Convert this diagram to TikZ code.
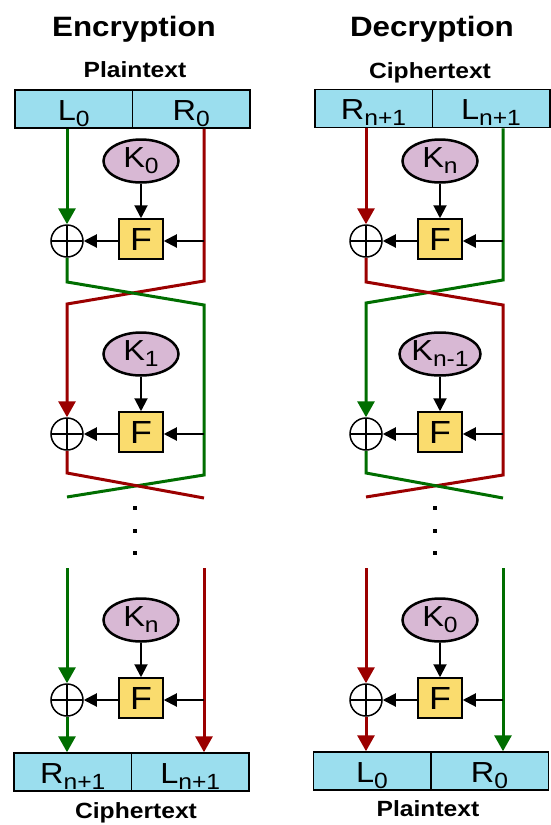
\documentclass[tikz,border=0pt]{standalone}
\usepackage{fontspec}
\setmainfont{Liberation Sans}[FakeStretch=1.12]
\usetikzlibrary{arrows.meta,shapes.geometric}
\definecolor{wgreen}{RGB}{0,110,0}
\definecolor{wred}{RGB}{155,0,0}
\definecolor{blockblue}{RGB}{155,222,238}
\definecolor{keypink}{RGB}{216,184,212}
\definecolor{fyellow}{RGB}{250,220,110}
\newcommand{\lbsub}[2]{#1\raisebox{-6pt}{\fontsize{22}{22}\selectfont #2}}

\begin{document}
\begin{tikzpicture}[x=1pt,y=-1pt,
		half/.style={draw=black,line width=1.5pt,fill=blockblue,minimum width=117.5pt,inner sep=0pt,text height=30pt,text depth=8pt,font=\fontsize{29}{29}\selectfont},
		key/.style={ellipse,draw=black,line width=2.5pt,fill=keypink,minimum width=75pt,minimum height=43pt,inner sep=0pt,font=\fontsize{29}{29}\selectfont},
		fbox/.style={draw=black,line width=1.5pt,fill=fyellow,minimum width=44pt,minimum height=40pt,inner sep=0pt,font=\fontsize{32}{32}\selectfont},
		xorc/.style={circle,draw=black,line width=1.5pt,fill=white,minimum size=32pt,inner sep=0pt,
			path picture={\draw[line width=1.2pt] (path picture bounding box.north) -- (path picture bounding box.south) (path picture bounding box.west) -- (path picture bounding box.east);}},
		wg/.style={draw=wgreen,line width=3pt},
		wr/.style={draw=wred,line width=3pt},
		tip/.style={-{Triangle[width=17pt,length=16pt]}},
		bk/.style={line width=2pt,-{Triangle[width=13pt,length=13pt]}},
		ttl/.style={anchor=base,font=\bfseries\fontsize{28}{28}\selectfont},
		lbl/.style={anchor=base,font=\bfseries\fontsize{22}{22}\selectfont}]
	\useasboundingbox (0,0) rectangle (550,825);
	\node[ttl] (enc) at (134,36) {Encryption};
	\node[ttl] (dec) at (432,36) {Decryption};
	\node[lbl] (ptop) at (135,77) {Plaintext};
	\node[lbl] (ctop) at (430,78) {Ciphertext};
	\node[lbl] (cbot) at (136,818) {Ciphertext};
	\node[lbl] (pbot) at (428,816) {Plaintext};
	\node[half] (pL) at (73.75,109) {\lbsub{L}{0}};
	\node[half] (pR) at (191.25,109) {\lbsub{R}{0}};
	\node[half] (dR) at (373.5,108.5) {\lbsub{R}{n+1}};
	\node[half] (dL) at (491,108.5) {\lbsub{L}{n+1}};
	\node[half] (cR) at (72.75,772) {\lbsub{R}{n+1}};
	\node[half] (cL) at (190.25,772) {\lbsub{L}{n+1}};
	\node[half] (qL) at (372,771) {\lbsub{L}{0}};
	\node[half] (qR) at (489.5,771) {\lbsub{R}{0}};
	\foreach \n/\sx/\yr/\kl in {a1/0/241/{\lbsub{K}{0}}, a2/0/434/{\lbsub{K}{1}}, a3/0/700/{\lbsub{K}{n}},
		b1/299/241/{\lbsub{K}{n}}, b2/299/434/{\lbsub{K}{n-1}}, b3/299/700/{\lbsub{K}{0}}}{
		\node[xorc] (x\n) at (67+\sx,\yr) {};
		\node[fbox] (f\n) at (141+\sx,\yr-2) {F};
		\node[key] (k\n) at (141+\sx,\yr-80) {\kl};
		\coordinate (in\n) at (204+\sx,\yr);
	}
	\coordinate (ea) at (67,497);
	\coordinate (eb) at (204,498);
	\coordinate (sa) at (67,568);
	\coordinate (sb) at (204,568);
	\coordinate (ec) at (366,497);
	\coordinate (ed) at (503,498);
	\coordinate (sc) at (366,568);
	\coordinate (sd) at (503,568);
	\draw[wr,tip] (pR.south -| ina1) -- (204,281) -- (67,304) -- (xa2);
	\draw[wg,tip] (pL.south -| xa1) -- (xa1);
	\draw[wg] (xa1) -- (67,282) -- (204,305) -- (204,475) -- (ea);
	\draw[wr] (xa2) -- (67,473) -- (eb);
	\draw[wg,tip] (sa) -- (xa3);
	\draw[wg,tip] (xa3) -- (xa3 |- cR.north);
	\draw[wr,tip] (sb) -- (sb |- cL.north);
	\draw[wg,tip] (dL.south -| inb1) -- (503,280) -- (366,303) -- (xb2);
	\draw[wr,tip] (dR.south -| xb1) -- (xb1);
	\draw[wr] (xb1) -- (366,282) -- (503,305) -- (503,475) -- (ec);
	\draw[wg] (xb2) -- (366,473) -- (ed);
	\draw[wr,tip] (sc) -- (xb3);
	\draw[wr,tip] (xb3) -- (xb3 |- qL.north);
	\draw[wg,tip] (sd) -- (sd |- qR.north);
	\foreach \n in {a1,a2,a3,b1,b2,b3}{
		\draw[bk] (k\n) -- (f\n);
		\draw[bk] (in\n) -- (in\n -| f\n.east);
		\draw[bk] (in\n -| f\n.west) -- (x\n);
	}
	\foreach \d in {506,529,551}{
		\fill (133,\d) rectangle ++(4,4);
		\fill (433,\d) rectangle ++(4,4);
	}
\end{tikzpicture}
\end{document}
